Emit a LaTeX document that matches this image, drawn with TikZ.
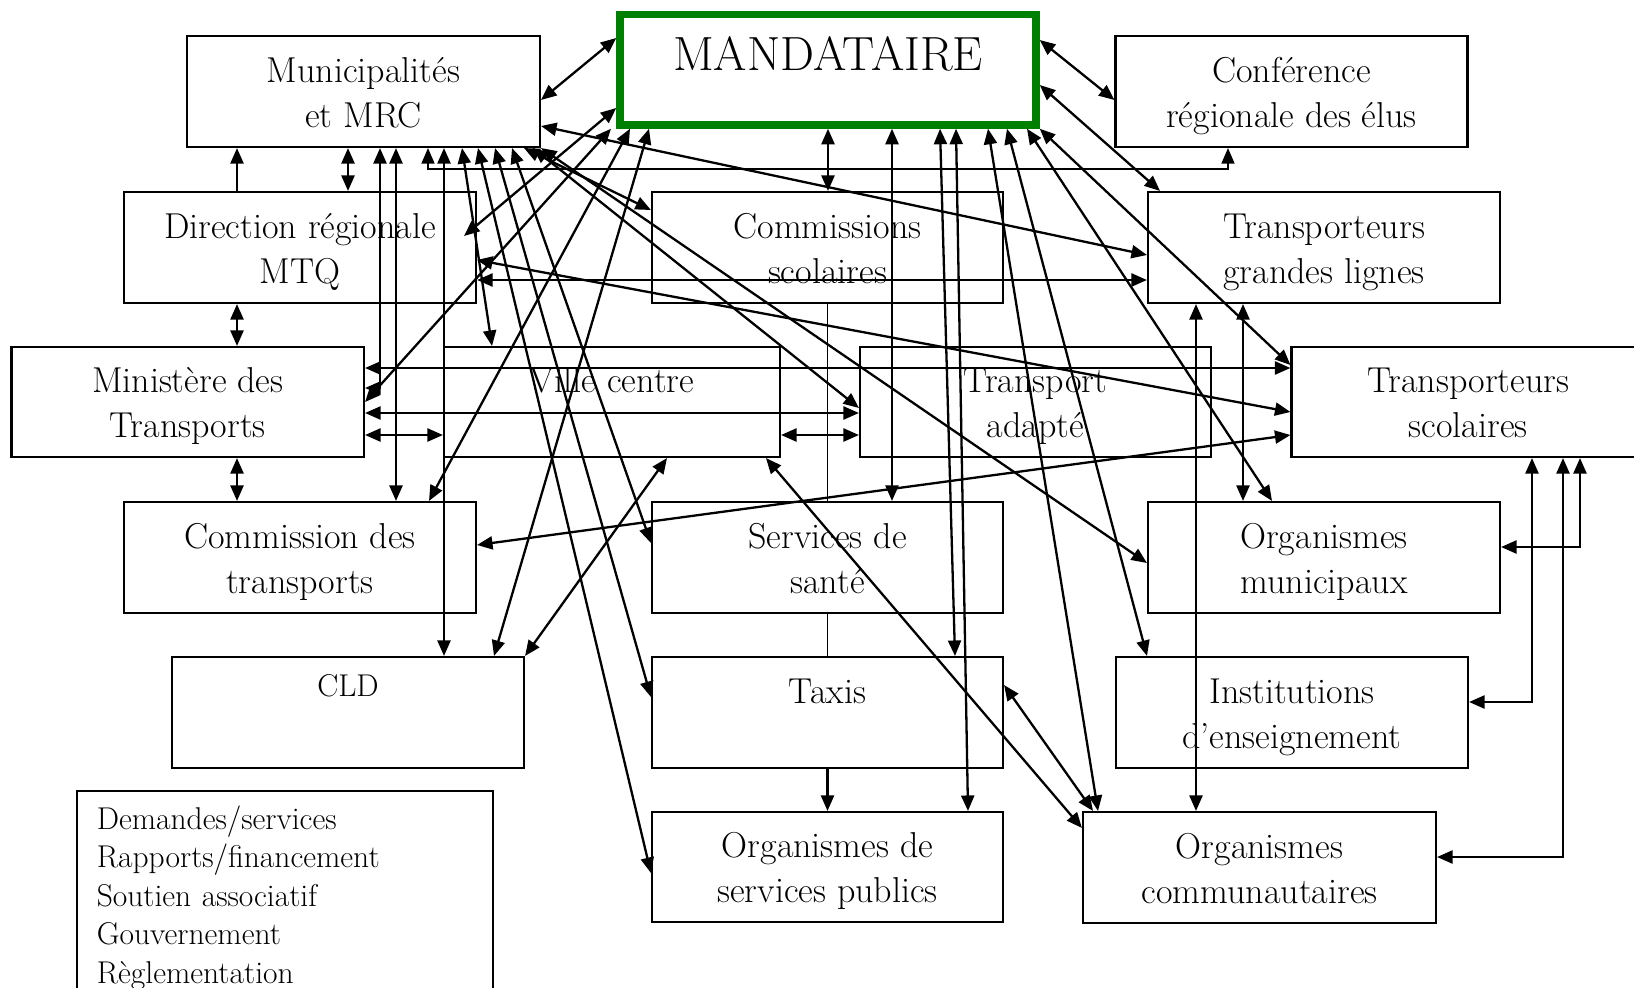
\documentclass[tikz,border=0pt]{standalone}
\usepackage{fontspec}
\usetikzlibrary{arrows.meta,calc}
\definecolor{mgreen}{RGB}{0,128,0}
\newcommand\bxs{\rule[-8pt]{0pt}{42pt}}
\newcommand\lgs{\rule[-10.5pt]{0pt}{38.5pt}}
\begin{document}
\begin{tikzpicture}[x=1pt,y=-1pt,
  box/.style={draw, line width=2.1pt, rectangle, inner sep=0pt, align=center,
    font=\fontsize{36}{45}\selectfont, minimum width=352pt, minimum height=111pt},
  lnk/.style={line width=2.3pt},
  thin/.style={line width=1.4pt},
  >={Triangle[length=15.5pt,width=13pt]}]
\useasboundingbox (0,0) rectangle (1634,988);
\clip (0,0) rectangle (1634,988);
% boxes
\node[draw=mgreen, line width=7.5pt, minimum width=416pt, minimum height=110.5pt, inner sep=0pt,
  font=\fontsize{48}{50}\selectfont, text height=30pt, text depth=28.5pt] (man) at (828,69.75) {MANDATAIRE};
\node[box, minimum width=353pt] (mun) at (363.5,91.5) {\bxs Municipalités\\\bxs et MRC};
\node[box] (con) at (1291.5,91.5) {\bxs Conférence\\\bxs régionale des élus};
\node[box] (dir) at (300,247.5) {\bxs Direction régionale\\\bxs MTQ};
\node[box, minimum width=351pt] (com) at (827.5,247.5) {\bxs Commissions\\\bxs scolaires};
\node[box] (tgl) at (1324,247.5) {\bxs Transporteurs\\\bxs grandes lignes};
\node[box, minimum width=352.5pt, minimum height=110pt] (min) at (187.75,402) {\bxs Ministère des\\\bxs Transports};
\node[box, minimum width=336pt, minimum height=110pt] (vil) at (612,402) {\bxs Ville centre\\\bxs};
\node[box, minimum width=351pt, minimum height=110pt] (tad) at (1035.5,402) {\bxs Transport\\\bxs adapté};
\node[box, minimum width=353.5pt, minimum height=110pt] (tsc) at (1468.25,402) {\bxs Transporteurs\\\bxs scolaires};
\node[box] (cdt) at (300,557.5) {\bxs Commission des\\\bxs transports};
\node[box, minimum width=351pt] (san) at (827.5,557.5) {\bxs Services de\\\bxs santé};
\node[box] (omu) at (1324,557.5) {\bxs Organismes\\\bxs municipaux};
\node[box, font=\fontsize{31.5}{38.5}\selectfont, text height=20pt, text depth=51.6pt] (cld) at (348,712.5) {CLD};
\node[box, minimum width=351pt] (tax) at (827.5,712.5) {\bxs Taxis\\\bxs};
\node[box] (ins) at (1292,712.5) {\bxs Institutions\\\bxs d’enseignement};
\node[box, minimum width=351pt, minimum height=110pt] (osp) at (827.5,867) {\bxs Organismes de\\\bxs services publics};
\node[box, minimum width=353pt] (oco) at (1259.5,867.5) {\bxs Organismes\\\bxs communautaires};
\node[draw, line width=2.1pt, anchor=north west, inner xsep=19.7pt, inner ysep=10pt,
  text width=376.6pt, align=left, font=\fontsize{31.5}{38.5}\selectfont] (leg) at (76,790)
  {\lgs Demandes/services\\\lgs Rapports/financement\\\lgs Soutien associatif\\\lgs Gouvernement\\\lgs Règlementation};
% connectors from Municipalites
\draw[lnk,->] (237,0 |- dir.north) -- (237,0 |- mun.south);
\draw[lnk,<->] (348,0 |- mun.south) -- (348,0 |- dir.north);
\draw[lnk,<->] (237,0 |- dir.south) -- (237,0 |- min.north);
\draw[lnk,<->] (237,0 |- min.south) -- (237,0 |- cdt.north);
\draw[lnk,<->] (380,0 |- mun.south) |- (min.east |- 0,388);
\draw[lnk,<->] (396,0 |- mun.south) -- (396,0 |- cdt.north);
\draw[thin,<->] (428,0 |- mun.south) |- (1228,169) -- (1228,0 |- con.south);
\draw[lnk,<->] (444,0 |- mun.south) -- (444,0 |- cld.north);
\draw[lnk,<->] (462,0 |- mun.south) -- (492,0 |- vil.north);
\draw[lnk,<->] (478,0 |- mun.south) -- (osp.west |- 0,873);
\draw[lnk,<->] (495,0 |- mun.south) -- (tax.west |- 0,697);
\draw[lnk,<->] (512,0 |- mun.south) -- (san.west |- 0,543);
\draw[lnk,<->] (524,0 |- mun.south) -- (com.west |- 0,210);
\draw[lnk,<->] (533,0 |- mun.south) -- (tad.west |- 0,408);
\draw[lnk,<->] (mun.south east) -- (omu.west |- 0,563);
\draw[lnk,<->] (mun.east |- 0,100) -- (man.west |- 0,38);
\draw[lnk,<->] (mun.east |- 0,126) -- (tgl.west |- 0,255);
% connectors from MANDATAIRE
\draw[lnk,<->] (man.west |- 0,108) -- ($(dir.east |- 0,236)+(-13,0)$);
\draw[lnk,<->] (611,0 |- man.south) -- (min.east |- 0,402);
\draw[lnk,<->] (630,0 |- man.south) -- (429,0 |- cdt.north);
\draw[lnk,<->] (649,0 |- man.south) -- (494,0 |- cld.north);
\draw[lnk,<->] (man.south) -- (man.south |- com.north);
\draw[lnk,<->] (892,0 |- man.south) -- (892,0 |- san.north);
\draw[lnk,<->] (940,0 |- man.south) -- (955,0 |- tax.north);
\draw[lnk,<->] (956,0 |- man.south) -- (968,0 |- osp.north);
\draw[lnk,<->] (988,0 |- man.south) -- (1098,0 |- oco.north);
\draw[lnk,<->] (1007,0 |- man.south) -- (1147,0 |- ins.north);
\draw[lnk,<->] (1027,0 |- man.south) -- (1272,0 |- omu.north);
\draw[lnk,<->] (man.south east) -- (tsc.west |- 0,365);
\draw[lnk,<->] (man.east |- 0,40) -- (con.west |- 0,100);
\draw[lnk,<->] (man.east |- 0,85) -- (1160,0 |- tgl.north);
% other connectors
\draw[lnk,<->] (dir.east |- 0,280) -- (tgl.west |- 0,280);
\draw[lnk,<->] (dir.east |- 0,260) -- (tsc.west |- 0,412);
\draw[lnk,<->] (min.east |- 0,368) -- (tsc.west |- 0,368);
\draw[lnk,<->] (min.east |- 0,413) -- (tad.west |- 0,413);
\draw[lnk,<->] (min.east |- 0,435) -- (vil.west |- 0,435);
\draw[lnk,<->] (vil.east |- 0,435) -- (tad.west |- 0,435);
\draw[lnk,<->] (cdt.east |- 0,545) -- (tsc.west |- 0,435);
\draw[lnk,<->] (667,0 |- vil.south) -- (cld.north east);
\draw[lnk,<->] (766,0 |- vil.south) -- (oco.west |- 0,828);
\draw[thin] (com.south) -- (san.north);
\draw[thin] (san.south) -- (tax.north);
\draw[lnk,->] (tax.south) -- (osp.north);
\draw[lnk,<->] (tax.east |- 0,685) -- (1093,0 |- oco.north);
\draw[lnk,<->] (1196,0 |- tgl.south) -- (1196,0 |- oco.north);
\draw[lnk,<->] (1243,0 |- tgl.south) -- (1243,0 |- omu.north);
\draw[lnk,<->] (1532,0 |- tsc.south) |- (ins.east |- 0,702);
\draw[lnk,<->] (1580,0 |- tsc.south) |- (omu.east |- 0,547);
\draw[lnk,<->] (1563,0 |- tsc.south) |- (oco.east |- 0,857);
\end{tikzpicture}
\end{document}
